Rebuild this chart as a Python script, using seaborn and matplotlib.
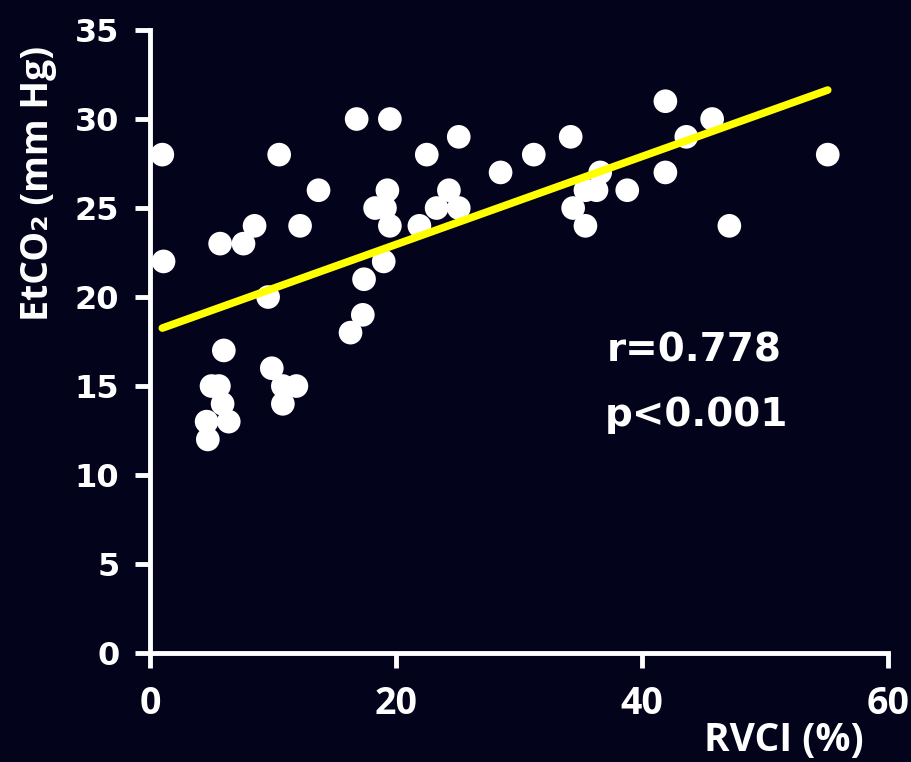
import matplotlib
matplotlib.use("Agg")
import matplotlib.pyplot as plt
import seaborn as sns
import pandas as pd

# RVCI (%) values
rvci = [1.0, 1.1, 4.7, 4.6, 6.4, 5.9, 5.0, 5.6, 6.0, 5.7,
        7.6, 8.5, 9.6, 9.9, 10.8, 10.8, 11.9, 10.5, 12.2, 13.7,
        16.3, 17.3, 17.4, 16.8, 19.5, 19.3, 18.3, 19.1, 19.5, 19.0,
        21.9, 22.5, 23.3, 24.3, 25.1, 25.1, 28.5, 31.2, 34.2, 34.4,
        35.4, 35.4, 36.3, 36.6, 38.8, 41.9, 41.9, 43.6, 45.7, 47.1,
        55.1]
# EtCO2 (mm Hg) values
etco2 = [28, 22, 12, 13, 13, 14, 15, 15, 17, 23,
         23, 24, 20, 16, 15, 14, 15, 28, 24, 26,
         18, 19, 21, 30, 30, 26, 25, 25, 24, 22,
         24, 28, 25, 26, 25, 29, 27, 28, 29, 25,
         24, 26, 26, 27, 26, 31, 27, 29, 30, 24,
         28]

x_ticks = [0, 20, 40, 60]
y_ticks = [0, 5, 10, 15, 20, 25, 30, 35]
x_label = "RVCI (%)"
y_label = "EtCO\u2082 (mm Hg)"
stats_lines = ["r=0.778", "p<0.001"]

df = pd.DataFrame({"RVCI": rvci, "EtCO2": etco2})

BG = "#03031c"
sns.set_theme(style="white")
plt.rcParams["font.family"] = ["DejaVu Sans"]
HUMAN = ["Open Sans", "DejaVu Sans"]

fig = plt.figure(figsize=(9.12, 7.62), dpi=100, facecolor=BG)
ax = fig.add_axes([0.1645, 0.143, 0.8092, 0.8176])
ax.set_facecolor(BG)

sns.regplot(data=df, x="RVCI", y="EtCO2", ax=ax, ci=None,
            scatter_kws=dict(s=290, color="white", edgecolor="none", alpha=1, zorder=3),
            line_kws=dict(color="#ffff00", linewidth=5.5, zorder=4))

ax.set_xlim(0, 60)
ax.set_ylim(0, 35)
ax.set_xticks(x_ticks)
ax.set_yticks(y_ticks)
for c in ax.collections:
    c.set_clip_on(False)

for side in ["top", "right"]:
    ax.spines[side].set_visible(False)
for side in ["left", "bottom"]:
    ax.spines[side].set_color("white")
    ax.spines[side].set_linewidth(3.5)
    ax.spines[side].set_zorder(2)

ax.tick_params(axis="both", colors="white", direction="out", length=11, width=3.5,
               bottom=True, left=True, top=False, right=False)
ax.tick_params(axis="x", pad=12, labelsize=27)
ax.tick_params(axis="y", pad=11, labelsize=23)
for lab in ax.get_xticklabels():
    lab.set_fontweight("bold")
    lab.set_family(HUMAN)
    lab.set_color("white")
for lab in ax.get_yticklabels():
    lab.set_fontweight("bold")
    lab.set_color("white")

ax.set_xlabel(x_label, color="white", fontsize=28, fontweight="bold", va="center",
              family=HUMAN)
ax.xaxis.set_label_coords(0.859, -0.141)
ax.set_ylabel(y_label, color="white", fontsize=27, fontweight="bold", va="center",
              family=HUMAN)
ax.yaxis.set_label_coords(-0.152, 0.754)

ax.text(0.738, 0.486, stats_lines[0], transform=ax.transAxes, color="white",
        fontsize=28, fontweight="bold", ha="center", va="center")
ax.text(0.740, 0.382, stats_lines[1], transform=ax.transAxes, color="white",
        fontsize=28, fontweight="bold", ha="center", va="center")

fig.savefig("out.png", dpi=100, facecolor=BG)
